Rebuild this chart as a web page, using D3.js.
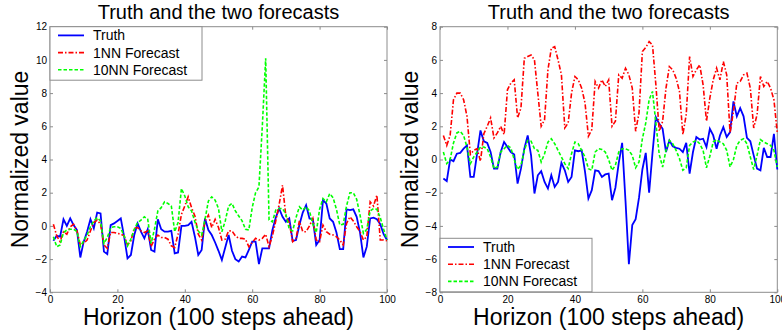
<!DOCTYPE html>
<html>
<head>
<meta charset="utf-8">
<script src="https://cdn.jsdelivr.net/npm/d3@7"></script>
<style>
  body { margin: 0; background: #fff; }
  svg text { font-family: "Liberation Sans", Arial, sans-serif; fill: #000; }
  .tick line { stroke: #8c8c8c; }
</style>
</head>
<body>
<div id="chart"></div>
<script>
const horizon = d3.range(1, 101);

// left panel
const truthA = [-0.9, -0.6, -0.65, 0.4, 0.0, 0.45, 0.05, -0.25, -1.9, -0.95,
  -0.35, 0.4, -0.15, 0.8, 0.75, -1.55, -1.7, 0.05, 0.15, 0.3,
  0.45, -0.65, -1.95, -1.75, -0.55, 0.15, -0.35, -0.75, -0.2, -1.45,
  -1.55, 0.4, -0.2, -0.35, -0.35, -0.3, -1.65, -1.6, 0.0, 0.0,
  0.05, 0.25, -0.65, -1.75, -1.45, 0.45, -0.25, -0.55, -1.0, -1.5,
  -2.05, -1.3, -0.55, -1.5, -2.0, -2.15, -1.85, -1.9, -1.45, -0.95,
  -0.95, -2.3, -1.35, -1.35, -1.35, -0.25, 0.5, 1.05, 0.55, 0.25,
  0.45, -0.9, -0.85, 0.05, 0.8, 1.25, 0.45, 0.4, -1.15, -0.85,
  1.55, 1.35, 0.45, 0.25, -0.4, -1.4, -1.4, 1.0, 0.95, 1.0,
  0.55, -0.4, -1.9, -1.25, 0.45, 0.5, 0.4, 0.1, -0.5, -0.85];
const nn1A = [0.1, -0.6, -0.95, -0.35, -0.5, -0.05, 0.1, -0.3, -1.15, -1.05,
  -0.85, -0.3, 0.2, 0.35, 0.1, -1.15, -1.35, -0.4, -0.4, -0.45,
  -0.5, -0.6, -1.15, -0.9, -0.15, -0.1, -0.3, -0.4, -0.3, -1.25,
  -0.8, -0.55, -0.7, -0.7, -0.8, -1.2, -1.3, -0.5, 0.7, 1.2,
  1.75, 1.1, 0.6, -0.5, -0.85, 0.3, 0.65, -0.1, 0.4, -0.1,
  -0.85, -0.8, -0.3, -0.3, -0.6, -0.75, -0.75, -0.8, -1.25, -1.0,
  -0.75, -0.85, -0.75, -0.5, -1.25, -0.6, 0.3, 1.3, 2.45, 0.55,
  0.2, -0.95, -0.75, 0.3, -0.35, -0.35, 0.0, 0.45, -0.85, -0.95,
  0.05, -0.35, -0.5, -0.55, -0.65, -0.85, -1.15, 0.15, 0.55, 0.3,
  -0.05, -0.35, -0.85, -0.65, 1.45, 1.2, 1.85, -0.85, -0.85, -0.9];
const nn10A = [-0.65, -1.25, -1.15, -0.4, -0.25, -0.2, -0.2, -0.35, -1.25, -0.9,
  -0.55, -0.05, 0.3, 0.5, 0.3, -1.05, -0.7, -0.1, -0.05, -0.05,
  -0.15, -0.6, -1.2, -0.8, -0.2, 0.2, 0.35, 0.55, 0.4, -1.05,
  -0.2, 0.9, 1.1, 1.45, 1.35, 1.2, -0.35, 0.2, 2.25, 1.8,
  1.15, 0.9, 0.25, -0.3, -0.55, 0.4, 1.5, 1.75, 1.55, 1.05,
  -0.35, 0.3, 1.2, 1.35, 0.9, 0.6, 0.3, -0.2, -0.25, 1.1,
  2.0, 2.35, 6.0, 10.1, 0.35, 0.25, 0.95, 1.05, 1.05, 0.7,
  -0.2, -0.3, 0.5, 1.15, 0.95, 1.15, 0.9, 0.1, -0.4, 1.0,
  1.65, 1.45, 1.95, 1.7, 1.0, 0.05, 0.1, 1.2, 2.0, 2.0,
  1.6, 0.65, -0.45, -0.2, 0.9, 1.05, 1.0, 0.5, -0.2, -0.85];

// right panel
const truthB = [-1.15, -1.3, 0.0, -0.1, 0.35, 0.4, 0.65, 0.85, -1.05, -1.05,
  0.35, 1.75, 1.1, 1.0, 0.45, -0.55, -0.55, 0.45, 1.05, 0.75,
  0.45, 0.3, -1.45, -0.55, 0.65, 1.45, 0.25, -2.05, -0.95, -0.7,
  -1.35, -1.75, -0.95, -1.65, -1.35, -0.2, -0.65, -1.35, -1.05, 0.55,
  0.5, 0.55, -0.75, -2.35, -1.85, -0.65, -0.7, -1.05, -0.9, -0.85,
  -2.45, -1.7, -0.2, 1.0, -2.5, -6.3, -3.95, -3.6, -2.3, -0.6,
  0.4, -2.0, 0.4, 2.55, 2.15, 1.85, 0.45, 1.15, 0.8, 0.7,
  0.65, 0.45, 1.0, -0.85, 0.45, 1.35, 1.2, 1.25, 0.75, 1.85,
  1.45, 0.65, 1.45, 1.95, 1.35, 1.65, 3.5, 2.6, 3.1, 2.6,
  1.3, 1.1, 0.25, -0.55, -0.65, 0.7, 0.15, 0.15, 1.55, -0.6];
const nn1B = [1.45, 0.85, 1.45, 3.6, 4.0, 4.0, 3.6, 2.6, 0.3, 0.55,
  0.65, -0.1, 1.55, 2.0, 2.5, 1.3, 1.6, 2.0, 1.5, 4.2,
  4.6, 4.8, 2.5, 3.1, 6.1, 6.2, 6.3, 6.0, 4.0, 2.0,
  2.4, 5.4, 6.7, 6.8, 6.0, 5.1, 1.9, 2.2, 4.0, 5.0,
  4.8, 4.3, 3.4, 1.4, 1.8, 4.7, 4.3, 4.8, 4.4, 4.8,
  2.0, 2.3, 5.1, 4.9, 5.5, 5.1, 4.3, 1.7, 2.8, 6.5,
  6.75, 7.1, 6.9, 4.5, 1.7, 2.3, 4.3, 5.6, 5.4, 4.9,
  4.1, 1.5, 2.7, 6.2, 5.0, 5.4, 5.7, 4.5, 2.3, 3.7,
  4.8, 5.5, 4.8, 5.9, 5.1, 1.6, 2.9, 4.6, 4.7, 5.1,
  5.2, 4.3, 1.9, 2.7, 5.0, 4.4, 4.7, 4.3, 3.6, 1.6];
const nn10B = [0.45, -0.25, 0.0, 1.0, 1.6, 1.7, 1.45, 0.75, -0.25, 0.15,
  0.45, 0.75, 0.75, 0.65, 0.15, -0.55, -0.45, 0.45, 0.65, 0.85,
  0.7, 0.0, -0.6, -0.35, 0.55, 1.15, 1.1, 0.65, 0.55, -0.15,
  0.35, 1.05, 1.25, 0.95, 0.55, 0.15, -0.25, -0.55, 0.35, 1.05,
  0.95, 0.55, 0.15, -0.55, -0.65, 0.45, 0.65, 0.6, 0.45, 0.0,
  -0.65, -0.35, 0.45, 0.65, 0.65, 0.55, 0.25, -0.5, -0.15, 1.25,
  2.2, 3.6, 4.1, 2.2, 0.3, -0.45, 0.55, 1.15, 0.95, 0.55,
  0.05, -0.65, -0.5, 0.85, 1.05, 1.15, 0.95, 0.55, -0.5, 0.2,
  1.05, 1.2, 1.05, 0.95, 0.55, -0.45, 0.0, 0.85, 1.15, 1.25,
  0.95, 0.15, -0.6, 0.25, 1.2, 1.05, 0.95, 0.85, 0.55, -0.45];

const xTicks = [0, 20, 40, 60, 80, 100];
const yTicksA = [-4, -2, 0, 2, 4, 6, 8, 10, 12];
const yTicksB = [-8, -6, -4, -2, 0, 2, 4, 6, 8];
const seriesNames = ['Truth', '1NN Forecast', '10NN Forecast'];

const W = 782, H = 330;
const plotTop = 26.7, plotBottom = 292.3;

const styles = [
  { color: '#0000ff', width: 1.8, dash: null },
  { color: '#ff0000', width: 1.6, dash: '5,2,1.5,2' },
  { color: '#00ff00', width: 1.6, dash: '3.5,2' }
];

const svg = d3.select('#chart').append('svg')
  .attr('width', W)
  .attr('height', H);

function drawPanel(left, right, yDomain, yTicks, series, legendTop) {
  const x = d3.scaleLinear().domain([0, 100]).range([left, right]);
  const y = d3.scaleLinear().domain(yDomain).range([plotBottom, plotTop]);
  const g = svg.append('g');

  // ticks point inward, on all four sides
  g.append('g')
    .attr('transform', `translate(0,${plotBottom})`)
    .call(d3.axisBottom(x).tickValues(xTicks).tickSize(-3).tickSizeOuter(0).tickPadding(4))
    .call(a => a.select('.domain').remove())
    .selectAll('text').attr('font-size', 10);
  g.append('g')
    .attr('transform', `translate(0,${plotTop})`)
    .call(d3.axisTop(x).tickValues(xTicks).tickSize(-3).tickSizeOuter(0).tickFormat(''))
    .call(a => a.select('.domain').remove());
  g.append('g')
    .attr('transform', `translate(${left},0)`)
    .call(d3.axisLeft(y).tickValues(yTicks).tickSize(-3).tickSizeOuter(0).tickPadding(3))
    .call(a => a.select('.domain').remove())
    .selectAll('text').attr('font-size', 10);
  g.append('g')
    .attr('transform', `translate(${right},0)`)
    .call(d3.axisRight(y).tickValues(yTicks).tickSize(-3).tickSizeOuter(0).tickFormat(''))
    .call(a => a.select('.domain').remove());
  g.selectAll('.tick text').attr('font-family', '"Liberation Sans", Arial, sans-serif');

  g.append('rect')
    .attr('x', left).attr('y', plotTop)
    .attr('width', right - left).attr('height', plotBottom - plotTop)
    .attr('fill', 'none')
    .attr('stroke', '#8c8c8c');

  const line = d3.line()
    .x((d, i) => x(horizon[i]))
    .y(d => y(d));

  series.forEach((s, k) => {
    g.append('path')
      .datum(s)
      .attr('fill', 'none')
      .attr('stroke', styles[k].color)
      .attr('stroke-width', styles[k].width)
      .attr('stroke-dasharray', styles[k].dash)
      .attr('d', line);
  });

  // title and labels
  g.append('text')
    .attr('x', (left + right) / 2).attr('y', 18.5)
    .attr('text-anchor', 'middle')
    .attr('font-size', 20)
    .text('Truth and the two forecasts');
  g.append('text')
    .attr('x', (left + right) / 2).attr('y', 325)
    .attr('text-anchor', 'middle')
    .attr('font-size', 23)
    .text('Horizon (100 steps ahead)');
  g.append('text')
    .attr('transform', `translate(${left - 22},${(plotTop + plotBottom) / 2}) rotate(-90)`)
    .attr('text-anchor', 'middle')
    .attr('font-size', 23)
    .text('Normalized value');

  // legend
  const lg = g.append('g').attr('transform', `translate(${left},${legendTop})`);
  lg.append('rect')
    .attr('width', 152).attr('height', 53.5)
    .attr('fill', '#fff')
    .attr('stroke', '#8c8c8c');
  seriesNames.forEach((name, k) => {
    const by = 13.7 + k * 17.2;
    lg.append('line')
      .attr('x1', 8).attr('x2', 34)
      .attr('y1', by - 5).attr('y2', by - 5)
      .attr('stroke', styles[k].color)
      .attr('stroke-width', styles[k].width)
      .attr('stroke-dasharray', styles[k].dash);
    lg.append('text')
      .attr('x', 43).attr('y', by)
      .attr('font-size', 14)
      .text(name);
  });
}

drawPanel(50, 387, [-4, 12], yTicksA, [truthA, nn1A, nn10A], plotTop);
drawPanel(440, 777.3, [-8, 8], yTicksB, [truthB, nn1B, nn10B], plotBottom - 54);
</script>
</body>
</html>
